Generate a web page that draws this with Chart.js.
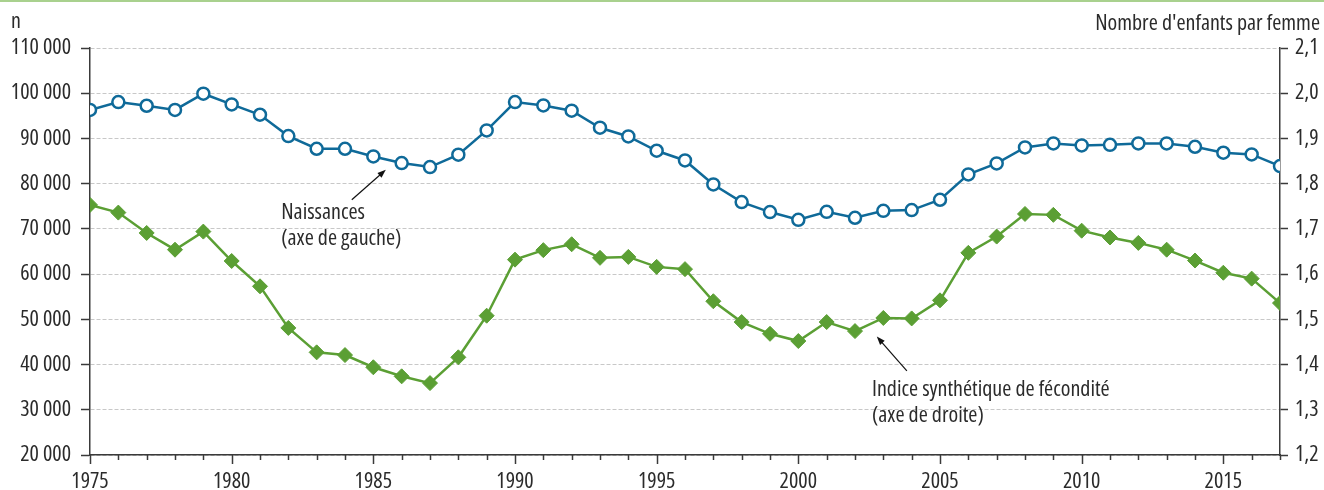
<!DOCTYPE html>
<html>
<head>
<meta charset="utf-8">
<script src="https://cdn.jsdelivr.net/npm/chart.js@4"></script>
<style>
  html, body { margin: 0; padding: 0; background: #fff; }
  #wrap { width: 1324px; height: 490px; position: relative; }
</style>
</head>
<body>
<div id="wrap"><canvas id="myChart"></canvas></div>
<script>
// years on the x axis
var years = [1975, 1976, 1977, 1978, 1979, 1980, 1981, 1982, 1983, 1984,
             1985, 1986, 1987, 1988, 1989, 1990, 1991, 1992, 1993, 1994,
             1995, 1996, 1997, 1998, 1999, 2000, 2001, 2002, 2003, 2004,
             2005, 2006, 2007, 2008, 2009, 2010, 2011, 2012, 2013, 2014,
             2015, 2016, 2017];
// births (left axis)
var births = [96300, 98050, 97230, 96300, 99890, 97520, 95240, 90530, 87720, 87720,
              86020, 84560, 83670, 86400, 91770, 98050, 97300, 96130, 92370, 90440,
              87280, 85130, 79820, 75930, 73720, 72010, 73780, 72460, 74000, 74150,
              76440, 82040, 84470, 88010, 88890, 88450, 88600, 88890, 88890, 88160,
              86840, 86460, 83890];
// total fertility rate (right axis)
var isf = [1.753, 1.736, 1.691, 1.654, 1.694, 1.629, 1.573, 1.481, 1.427, 1.421,
           1.394, 1.374, 1.359, 1.416, 1.508, 1.632, 1.653, 1.666, 1.636, 1.638,
           1.616, 1.611, 1.540, 1.494, 1.468, 1.452, 1.494, 1.474, 1.503, 1.502,
           1.542, 1.647, 1.683, 1.733, 1.731, 1.696, 1.681, 1.669, 1.654, 1.630,
           1.603, 1.590, 1.536];
var xLabels = [1975, 1980, 1985, 1990, 1995, 2000, 2005, 2010, 2015];
var leftTicks = [20000, 30000, 40000, 50000, 60000, 70000, 80000, 90000, 100000, 110000];
var rightTicks = [1.2, 1.3, 1.4, 1.5, 1.6, 1.7, 1.8, 1.9, 2.0, 2.1];

var FONT = "'Open Sans', 'Roboto Condensed', sans-serif";
var STRETCH = 'condensed'; // goes into the font shorthand before the size
var SIZE = 22;
var TEXT = '#2b2b2b';
var AXIS = '#3a3a3a';
var BLUE = '#0f6a99';
var GREEN = '#5b9f34';

function setTicks(list) {
  return function (scale) { scale.ticks = list.map(function (v) { return { value: v }; }); };
}

function arrow(ctx, x1, y1, x2, y2) {
  var a = Math.atan2(y2 - y1, x2 - x1);
  ctx.beginPath();
  ctx.moveTo(x1, y1);
  ctx.lineTo(x2 - 6 * Math.cos(a), y2 - 6 * Math.sin(a));
  ctx.stroke();
  ctx.beginPath();
  ctx.moveTo(x2, y2);
  ctx.lineTo(x2 - 9 * Math.cos(a - 0.35), y2 - 9 * Math.sin(a - 0.35));
  ctx.lineTo(x2 - 9 * Math.cos(a + 0.35), y2 - 9 * Math.sin(a + 0.35));
  ctx.closePath();
  ctx.fill();
}

var extras = {
  id: 'extras',
  beforeDraw: function (chart) {
    var ctx = chart.ctx;
    ctx.save();
    ctx.fillStyle = '#a9d18e';
    ctx.fillRect(0, 0, chart.width, 2);
    ctx.restore();
  },
  afterDraw: function (chart) {
    var ctx = chart.ctx, xs = chart.scales.x, ys = chart.scales.y;
    var bottom = chart.chartArea.bottom;
    ctx.save();
    // x ticks: long every 5 years, short otherwise
    ctx.strokeStyle = AXIS;
    ctx.lineWidth = 1.5;
    years.forEach(function (yr) {
      var px = Math.round(xs.getPixelForValue(yr)) + 0.5;
      ctx.beginPath();
      ctx.moveTo(px, bottom);
      ctx.lineTo(px, bottom + (yr % 5 === 0 ? 9 : 5));
      ctx.stroke();
    });
    // axis titles
    ctx.fillStyle = TEXT;
    ctx.font = STRETCH + ' ' + SIZE + 'px ' + FONT;
    ctx.textBaseline = 'middle';
    ctx.textAlign = 'left';
    ctx.fillText('n', 11, 22);
    ctx.textAlign = 'right';
    ctx.fillText("Nombre d'enfants par femme", 1320, 24);
    // notes
    ctx.textAlign = 'left';
    var nx = xs.getPixelForValue(1981.75), ny = ys.getPixelForValue(73500);
    ctx.fillText('Naissances', nx, ny);
    ctx.fillText('(axe de gauche)', nx, ny + 26);
    var ix = xs.getPixelForValue(2002.6), iy = ys.getPixelForValue(34500);
    ctx.fillText('Indice synthétique de fécondité', ix, iy);
    ctx.fillText('(axe de droite)', ix, iy + 26);
    ctx.strokeStyle = '#111';
    ctx.fillStyle = '#111';
    ctx.lineWidth = 1.2;
    arrow(ctx, xs.getPixelForValue(1984.24), ys.getPixelForValue(76440),
               xs.getPixelForValue(1985.44), ys.getPixelForValue(83080));
    arrow(ctx, xs.getPixelForValue(2003.83), ys.getPixelForValue(38600),
               xs.getPixelForValue(2002.77), ys.getPixelForValue(46200));
    ctx.restore();
  }
};

var tickFont = { family: FONT, size: SIZE, weight: STRETCH };

var ctx = document.getElementById('myChart').getContext('2d');

var myChart = new Chart(ctx, {
  type: 'line',
  data: {
    datasets: [{
      label: 'Naissances',
      data: years.map(function (y, i) { return { x: y, y: births[i] }; }),
      yAxisID: 'y',
      borderColor: BLUE,
      borderWidth: 2.5,
      pointRadius: 6,
      pointBorderWidth: 2.5,
      pointBackgroundColor: '#fff',
      pointBorderColor: BLUE
    }, {
      label: 'Indice synthétique de fécondité',
      data: years.map(function (y, i) { return { x: y, y: isf[i] }; }),
      yAxisID: 'y1',
      borderColor: GREEN,
      borderWidth: 2.5,
      pointStyle: 'rectRot',
      pointRadius: 7.5,
      pointBorderWidth: 1,
      pointBackgroundColor: GREEN,
      pointBorderColor: GREEN
    }]
  },
  options: {
    responsive: true,
    maintainAspectRatio: false,
    animation: false,
    layout: { padding: { top: 48, left: 0, right: 0, bottom: 0 } },
    plugins: { legend: { display: false }, tooltip: { enabled: false } },
    scales: {
      x: {
        type: 'linear',
        min: 1975,
        max: 2017,
        afterBuildTicks: setTicks(xLabels),
        afterFit: function (s) { s.height = 35; },
        grid: { display: false },
        border: { color: AXIS, width: 1.5 },
        ticks: {
          color: TEXT, padding: 6, maxRotation: 0,
          font: tickFont,
          callback: function (v) { return String(v); }
        }
      },
      y: {
        position: 'left',
        min: 20000,
        max: 110000,
        afterBuildTicks: setTicks(leftTicks),
        afterFit: function (s) { s.width = 90; },
        grid: { color: '#c8c8c8', lineWidth: 1, tickColor: AXIS, tickLength: 9, tickWidth: 1.5 },
        border: { color: AXIS, width: 1.5, dash: [4, 2] },
        ticks: {
          color: TEXT, padding: 10,
          font: tickFont,
          callback: function (v) { return String(v).replace(/\B(?=(\d{3})+(?!\d))/g, ' '); }
        }
      },
      y1: {
        position: 'right',
        min: 1.2,
        max: 2.1,
        afterBuildTicks: setTicks(rightTicks),
        afterFit: function (s) { s.width = 44; },
        grid: { drawOnChartArea: false, tickColor: AXIS, tickLength: 8, tickWidth: 1.5 },
        border: { color: AXIS, width: 1.5 },
        ticks: {
          color: TEXT, padding: 7,
          font: tickFont,
          callback: function (v) { return v.toFixed(1).replace('.', ','); }
        }
      }
    }
  },
  plugins: [extras]
});
</script>
</body>
</html>
